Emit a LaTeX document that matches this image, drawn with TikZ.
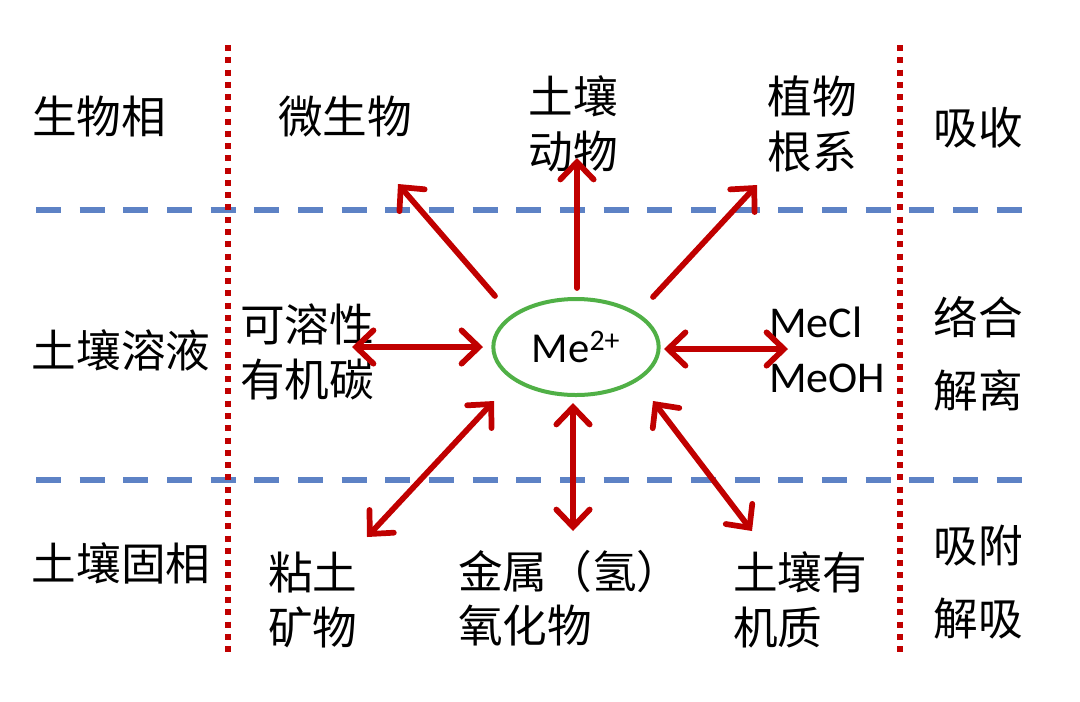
\documentclass[tikz,border=0pt]{standalone}
\usepackage{fontspec}
\setmainfont{Carlito}
\newfontfamily\cjk{Noto Sans CJK SC}
\usetikzlibrary{arrows.meta,shapes.geometric}
\definecolor{myred}{RGB}{192,0,0}
\definecolor{mygreen}{RGB}{80,176,70}
\definecolor{myblue}{RGB}{93,130,197}
\begin{document}
\begin{tikzpicture}[x=0.75pt,y=-0.75pt,
  lbl/.style={font=\cjk\fontsize{33.5}{41}\selectfont, inner sep=0pt, align=center},
  lat/.style={font=\fontsize{33}{41}\selectfont, inner sep=0pt, align=left},
  tip/.tip={Straight Barb[length=13pt,width=25pt,line cap=round]},
  arr/.style={draw=myred, line width=4.3pt, line cap=round, -tip},
  darr/.style={draw=myred, line width=4.3pt, line cap=round, tip-tip},
  sep/.style={draw=myred, line width=4.5pt, dash pattern=on 4.5pt off 4.7pt},
  layer/.style={draw=myblue, line width=4.5pt, dash pattern=on 18.75pt off 14pt},
]
\useasboundingbox (0,0) rectangle (1080,701);
% separators
\coordinate (d1t) at (228,45); \coordinate (d1b) at (228,652);
\coordinate (d2t) at (900,45); \coordinate (d2b) at (900,652);
\coordinate (h1l) at (36,210); \coordinate (h1r) at (1032,210);
\coordinate (h2l) at (36,480); \coordinate (h2r) at (1032,480);
\draw[layer] (h1l) -- (h1r);
\draw[layer] (h2l) -- (h2r);
\draw[sep] (d1t) -- (d1b);
\draw[sep] (d2t) -- (d2b);

% left column
\node[lbl] (bio) at (99,117) {生物相};
\node[lbl] (sol) at (121,350) {土壤溶液};
\node[lbl] (solid) at (121,563) {土壤固相};
% right column
\node[lbl] (abs) at (978,128) {吸收};
\node[lbl] (cpx) at (978,354) {络合\\[14pt]解离};
\node[lbl] (ads) at (978,582) {吸附\\[14pt]解吸};

% centre
\node[draw=mygreen, line width=3pt, ellipse, minimum width=124pt, minimum height=72pt, inner sep=0pt,
  font=\fontsize{32}{38}\selectfont] (me) at (576,347) {Me\textsuperscript{2+}};

% top labels
\node[lbl] (micro) at (345,117) {微生物};
\node[lbl] (fauna) at (573,124) {土壤\\动物};
\node[lbl] (root) at (812,124) {植物\\根系};
% middle labels
\node[lbl] (doc) at (307,352) {可溶性\\有机碳};
\node[lat, anchor=west] (mecl) at (769,350) {MeCl\\MeOH};
% bottom labels
\node[lbl, anchor=west, align=left] (clay) at (268,600) {粘土\\矿物};
\node[lbl, anchor=west, align=left] (oxide) at (458,598) {金属（氢）\\氧化物};
\node[lbl, anchor=west, align=left] (som) at (733,600) {土壤有\\机质};

% arrow end points
\coordinate (a1s) at (495,296); \coordinate (a1e) at (398,184);
\coordinate (a2s) at (577,288); \coordinate (a2e) at (577,158);
\coordinate (a3s) at (653,297); \coordinate (a3e) at (757,185);
\coordinate (a4s) at (483,347); \coordinate (a4e) at (352,347);
\coordinate (a5s) at (664,349); \coordinate (a5e) at (788,349);
\coordinate (a6s) at (494,401); \coordinate (a6e) at (367,537);
\coordinate (a7s) at (573,403); \coordinate (a7e) at (573,531);
\coordinate (a8s) at (653,401); \coordinate (a8e) at (752,531);

\draw[arr] (a1s) -- (a1e);
\draw[arr] (a2s) -- (a2e);
\draw[arr] (a3s) -- (a3e);
\draw[darr] (a4s) -- (a4e);
\draw[darr] (a5s) -- (a5e);
\draw[darr] (a6s) -- (a6e);
\draw[darr] (a7s) -- (a7e);
\draw[darr] (a8s) -- (a8e);
\end{tikzpicture}
\end{document}
